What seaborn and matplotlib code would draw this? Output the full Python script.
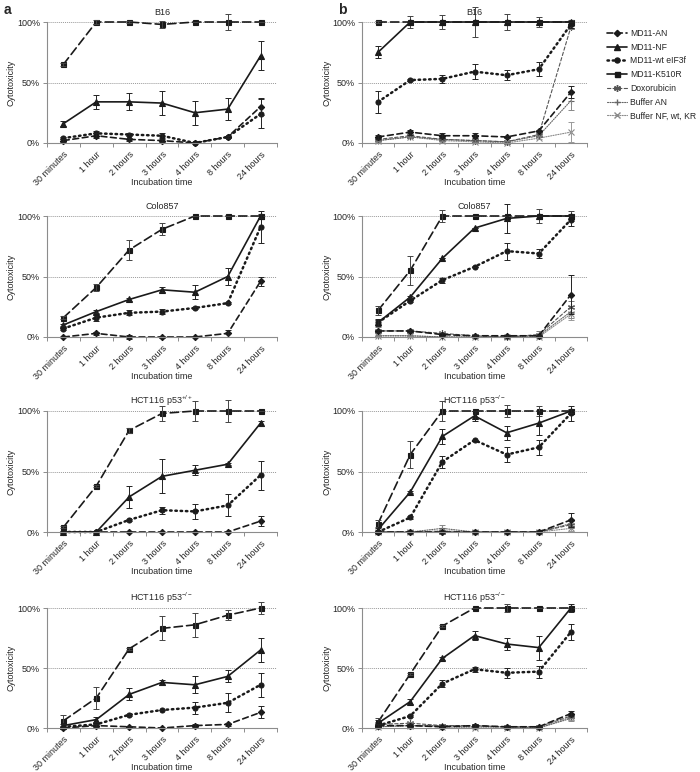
"""
Cytotoxicity time courses of MD11 variants (panels a and b).
"""
import numpy as np
import matplotlib
matplotlib.use("Agg")
import matplotlib.pyplot as plt
import seaborn as sns
from matplotlib.lines import Line2D

TIMES = ["30 minutes", "1 hour", "2 hours", "3 hours", "4 hours", "8 hours", "24 hours"]
SERIES = ["MD11-AN", "MD11-NF", "MD11-wt eIF3f", "MD11-K510R",
          "Doxorubicin", "Buffer AN", "Buffer NF, wt, KR"]

# ---- column a ----
A_B16 = {
    "MD11-AN": [2, 6, 3, 2, 0, 5, 30],
    "MD11-NF": [16, 34, 34, 33, 25, 28, 72],
    "MD11-wt eIF3f": [4, 8, 7, 6, 0, 5, 24],
    "MD11-K510R": [65, 100, 100, 98, 100, 100, 100],
}
A_B16_ERR = {
    "MD11-AN": [1, 2, 1, 1, 0, 1, 7],
    "MD11-NF": [2, 6, 7, 10, 10, 9, 12],
    "MD11-wt eIF3f": [1, 2, 1, 2, 0, 1, 12],
    "MD11-K510R": [1, 2, 1, 3, 0, 7, 0],
}
A_COLO = {
    "MD11-AN": [0, 3, 0, 0, 0, 3, 46],
    "MD11-NF": [10, 21, 31, 39, 37, 50, 100],
    "MD11-wt eIF3f": [7, 16, 20, 21, 24, 28, 91],
    "MD11-K510R": [16, 41, 72, 89, 100, 100, 100],
}
A_COLO_ERR = {
    "MD11-AN": [0, 1, 2, 1, 0, 3, 4],
    "MD11-NF": [1, 1, 1, 2, 6, 7, 2],
    "MD11-wt eIF3f": [1, 3, 2, 2, 1, 1, 13],
    "MD11-K510R": [1, 3, 8, 5, 0, 0, 0],
}
A_HCT_WT = {
    "MD11-AN": [0, 0, 0, 0, 0, 0, 9],
    "MD11-NF": [0, 0, 29, 46, 51, 56, 90],
    "MD11-wt eIF3f": [0, 0, 10, 18, 17, 22, 47],
    "MD11-K510R": [4, 38, 84, 98, 100, 100, 100],
}
A_HCT_WT_ERR = {
    "MD11-AN": [0, 0, 0, 0, 0, 0, 4],
    "MD11-NF": [0, 0, 9, 14, 4, 1, 2],
    "MD11-wt eIF3f": [0, 0, 1, 3, 6, 9, 12],
    "MD11-K510R": [1, 1, 2, 6, 8, 9, 0],
}
A_HCT_KO = {
    "MD11-AN": [0, 2, 1, 0, 2, 3, 13],
    "MD11-NF": [2, 7, 28, 38, 36, 43, 65],
    "MD11-wt eIF3f": [1, 3, 11, 15, 17, 21, 36],
    "MD11-K510R": [6, 25, 66, 83, 86, 94, 100],
}
A_HCT_KO_ERR = {
    "MD11-AN": [0, 1, 1, 0, 1, 1, 5],
    "MD11-NF": [1, 2, 5, 2, 7, 5, 10],
    "MD11-wt eIF3f": [1, 1, 1, 0, 5, 8, 10],
    "MD11-K510R": [5, 9, 1, 10, 10, 4, 5],
}

# ---- column b ----
B_B16 = {
    "MD11-AN": [5, 9, 6, 6, 5, 10, 42],
    "MD11-NF": [75, 100, 100, 100, 100, 100, 100],
    "MD11-wt eIF3f": [34, 52, 53, 59, 56, 61, 98],
    "MD11-K510R": [100, 100, 100, 100, 100, 100, 100],
    "Doxorubicin": [3, 6, 3, 2, 1, 7, 96],
    "Buffer AN": [2, 5, 3, 2, 1, 6, 35],
    "Buffer NF, wt, KR": [2, 5, 2, 1, 0, 4, 9],
}
B_B16_ERR = {
    "MD11-AN": [2, 2, 2, 2, 1, 1, 5],
    "MD11-NF": [5, 0, 0, 0, 0, 0, 0],
    "MD11-wt eIF3f": [9, 1, 3, 6, 4, 6, 3],
    "MD11-K510R": [1, 5, 6, 12, 7, 4, 2],
    "Doxorubicin": [1, 1, 1, 1, 1, 1, 2],
    "Buffer AN": [1, 1, 1, 1, 1, 1, 8],
    "Buffer NF, wt, KR": [1, 1, 1, 1, 1, 1, 8],
}
B_COLO = {
    "MD11-AN": [5, 5, 2, 1, 1, 1, 35],
    "MD11-NF": [12, 33, 65, 90, 98, 100, 100],
    "MD11-wt eIF3f": [12, 30, 47, 58, 71, 69, 97],
    "MD11-K510R": [22, 55, 100, 100, 100, 100, 100],
    "Doxorubicin": [5, 5, 3, 1, 0, 2, 25],
    "Buffer AN": [1, 1, 0, 0, 0, 1, 21],
    "Buffer NF, wt, KR": [1, 1, 0, 0, 0, 0, 19],
}
B_COLO_ERR = {
    "MD11-AN": [1, 1, 1, 1, 1, 1, 16],
    "MD11-NF": [3, 1, 0, 0, 12, 0, 0],
    "MD11-wt eIF3f": [2, 1, 2, 0, 7, 4, 5],
    "MD11-K510R": [4, 12, 5, 0, 0, 6, 4],
    "Doxorubicin": [3, 1, 1, 1, 1, 3, 5],
    "Buffer AN": [0, 0, 0, 0, 0, 1, 5],
    "Buffer NF, wt, KR": [0, 0, 0, 0, 0, 0, 5],
}
B_HCT_1 = {
    "MD11-AN": [0, 0, 0, 0, 0, 0, 10],
    "MD11-NF": [2, 33, 79, 96, 82, 90, 100],
    "MD11-wt eIF3f": [0, 12, 58, 76, 64, 70, 98],
    "MD11-K510R": [7, 64, 100, 100, 100, 100, 100],
    "Doxorubicin": [0, 0, 0, 0, 0, 0, 6],
    "Buffer AN": [0, 0, 3, 0, 0, 0, 7],
    "Buffer NF, wt, KR": [0, 0, 1, 0, 0, 0, 3],
}
B_HCT_1_ERR = {
    "MD11-AN": [0, 0, 0, 0, 0, 0, 6],
    "MD11-NF": [1, 1, 6, 4, 6, 10, 2],
    "MD11-wt eIF3f": [0, 1, 5, 0, 6, 6, 6],
    "MD11-K510R": [3, 11, 8, 0, 5, 4, 0],
    "Doxorubicin": [0, 0, 0, 0, 0, 0, 3],
    "Buffer AN": [0, 0, 3, 0, 0, 0, 4],
    "Buffer NF, wt, KR": [0, 0, 1, 0, 0, 0, 2],
}
B_HCT_2 = {
    "MD11-AN": [2, 2, 1, 2, 1, 1, 12],
    "MD11-NF": [4, 22, 58, 77, 70, 67, 100],
    "MD11-wt eIF3f": [2, 10, 37, 49, 46, 47, 80],
    "MD11-K510R": [5, 45, 85, 100, 100, 100, 100],
    "Doxorubicin": [3, 4, 2, 2, 1, 1, 10],
    "Buffer AN": [1, 2, 2, 1, 1, 0, 8],
    "Buffer NF, wt, KR": [1, 2, 1, 0, 0, 0, 9],
}
B_HCT_2_ERR = {
    "MD11-AN": [1, 1, 1, 1, 1, 1, 2],
    "MD11-NF": [3, 2, 1, 4, 5, 10, 3],
    "MD11-wt eIF3f": [1, 1, 3, 2, 4, 5, 7],
    "MD11-K510R": [3, 1, 1, 0, 3, 0, 0],
    "Doxorubicin": [1, 1, 1, 1, 1, 1, 2],
    "Buffer AN": [1, 1, 1, 1, 1, 1, 2],
    "Buffer NF, wt, KR": [1, 1, 1, 1, 1, 1, 2],
}

TITLES = ["B16", "Colo857", r"HCT116 p53$^{+/+}$", r"HCT116 p53$^{-/-}$"]
TITLES_B = ["B16", "Colo857", r"HCT116 p53$^{-/-}$", r"HCT116 p53$^{-/-}$"]

DARK = "#1a1a1a"
STYLES = {
    "MD11-AN": dict(color=DARK, ls=(0, (3.5, 2.2)), lw=1.2, marker="D", ms=3.2, ecolor="#222222"),
    "MD11-NF": dict(color=DARK, ls="-", lw=1.2, marker="^", ms=3.8, ecolor="#222222"),
    "MD11-wt eIF3f": dict(color=DARK, ls=(0, (0.6, 1.5)), lw=1.8, marker="o", ms=3.6, ecolor="#222222"),
    "MD11-K510R": dict(color=DARK, ls=(0, (5, 2.5)), lw=1.2, marker="s", ms=3.6, ecolor="#444444"),
    "Doxorubicin": dict(color="#555555", ls=(0, (3, 2)), lw=0.8, marker=(6, 2, 0), ms=5, ecolor="#777777"),
    "Buffer AN": dict(color="#666666", ls=(0, (1, 1.2)), lw=0.8, marker="+", ms=5, ecolor="#888888"),
    "Buffer NF, wt, KR": dict(color="#8a8a8a", ls=(0, (1, 1.2)), lw=0.8, marker="x", ms=3.8, ecolor="#999999"),
}
DRAW_ORDER = ["Buffer NF, wt, KR", "Buffer AN", "Doxorubicin",
              "MD11-K510R", "MD11-wt eIF3f", "MD11-NF", "MD11-AN"]

FS = 6.5
AXIS_GREY = "#8c8c8c"


def draw_panel(ax, title, values, errors):
    x_pos = np.arange(len(TIMES))
    for name in DRAW_ORDER:
        if name not in values:
            continue
        st = STYLES[name]
        sns.lineplot(x=x_pos, y=values[name], ax=ax, color=st["color"],
                     linestyle=st["ls"], linewidth=st["lw"], marker=st["marker"],
                     markersize=st["ms"], markeredgecolor=st["color"],
                     markerfacecolor=st["color"], markeredgewidth=0.8,
                     dash_capstyle="round", clip_on=False, errorbar=None, sort=False)
        eb = ax.errorbar(x_pos, values[name], yerr=errors[name], fmt="none",
                         ecolor=st["ecolor"], elinewidth=0.7, capsize=2, capthick=0.7)
        for art in eb.lines[1] + eb.lines[2]:
            art.set_clip_on(False)

    ax.axhline(50, color="#9a9a9a", lw=0.7, ls=(0, (1, 1)), zorder=0)
    ax.axhline(100, color="#9a9a9a", lw=0.7, ls=(0, (1, 1)), zorder=0)

    ax.set_xlim(-0.5, 6.5)
    ax.set_ylim(0, 100)
    ax.set_yticks([0, 50, 100])
    ax.set_yticklabels(["0%", "50%", "100%"], fontsize=FS)
    ax.set_xticks(x_pos)
    ax.set_xticklabels(TIMES, rotation=45, ha="right", rotation_mode="anchor", fontsize=FS)
    ax.set_xticks(np.arange(-0.5, 7, 1), minor=True)
    ax.tick_params(axis="x", which="major", length=0, pad=5)
    ax.tick_params(axis="x", which="minor", length=3, width=0.7, color=AXIS_GREY)
    ax.tick_params(axis="y", length=3, width=0.7, color=AXIS_GREY, pad=2)

    sns.despine(ax=ax)
    for side in ["left", "bottom"]:
        ax.spines[side].set_color(AXIS_GREY)
        ax.spines[side].set_linewidth(0.8)

    ax.set_title(title, fontsize=FS, pad=5)
    ax.set_xlabel("Incubation time", fontsize=FS)
    ax.set_ylabel("Cytotoxicity", fontsize=FS)
    ax.xaxis.set_label_coords(0.5, -0.29)
    w_px = ax.get_position().width * 700
    ax.yaxis.set_label_coords(-31 / w_px, 0.5)


def main():
    sns.set_style("ticks")
    plt.rcParams["font.family"] = ["Liberation Sans", "DejaVu Sans"]
    plt.rcParams["mathtext.default"] = "regular"

    fig = plt.figure(figsize=(7.0, 7.72), dpi=100)
    W, H = 700, 772
    rows = [(22, 143), (216, 337), (411, 532), (608, 728)]
    cols = [(47, 277), (362, 587)]

    a_data = [(A_B16, A_B16_ERR), (A_COLO, A_COLO_ERR),
              (A_HCT_WT, A_HCT_WT_ERR), (A_HCT_KO, A_HCT_KO_ERR)]
    b_data = [(B_B16, B_B16_ERR), (B_COLO, B_COLO_ERR),
              (B_HCT_1, B_HCT_1_ERR), (B_HCT_2, B_HCT_2_ERR)]

    for i, (top, bottom) in enumerate(rows):
        for j, (left, right) in enumerate(cols):
            ax = fig.add_axes([left / W, 1 - bottom / H, (right - left) / W, (bottom - top) / H])
            if j == 0:
                draw_panel(ax, TITLES[i], *a_data[i])
            else:
                draw_panel(ax, TITLES_B[i], *b_data[i])

    fig.text(4 / W, 1 - 3 / H, "a", fontsize=10, fontweight="bold", va="top", ha="left")
    fig.text(338 / W, 1 - 3 / H, "b", fontsize=10, fontweight="bold", va="top", ha="left")

    handles = []
    for name in SERIES:
        st = STYLES[name]
        handles.append(Line2D([], [], color=st["color"], ls=st["ls"], lw=st["lw"],
                              marker=st["marker"], markersize=st["ms"],
                              markeredgecolor=st["color"], markerfacecolor=st["color"],
                              dash_capstyle="round"))
    fig.legend(handles, SERIES, loc="upper left", bbox_to_anchor=(607 / W, 1 - 29 / H),
               frameon=False, fontsize=6.2, handlelength=2.3, handletextpad=0.4,
               labelspacing=0.55, borderpad=0, borderaxespad=0)

    fig.savefig("out.png", dpi=100)
    plt.close(fig)


if __name__ == "__main__":
    main()
